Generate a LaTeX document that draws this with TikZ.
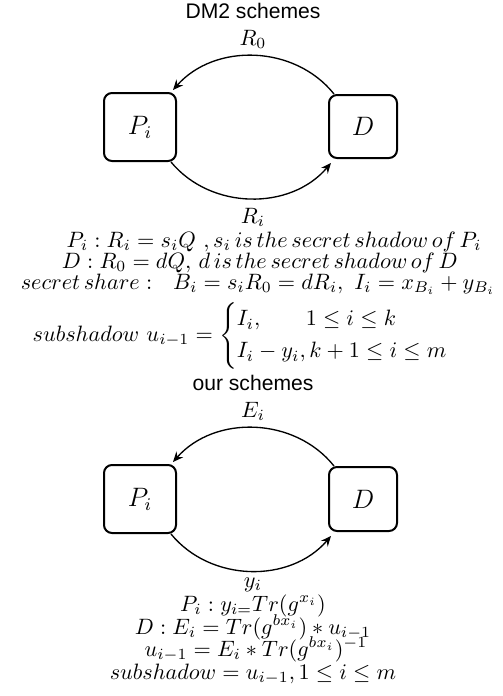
\documentclass[tikz,border=0pt]{standalone}
\usepackage{fontspec}
\setsansfont{Liberation Sans}
\usepackage{amsmath}
\usetikzlibrary{arrows.meta}
\def\U{0.45pt}
\tikzset{
  box/.style={draw, line width=0.9pt, rounded corners=3.6pt, inner sep=0pt, font=\large},
  lbl/.style={anchor=base, inner sep=0pt},
  ttl/.style={anchor=base, inner sep=0pt, font=\sffamily\fontsize{9.5}{11}\selectfont},
  conn/.style={line width=0.6pt, -{Stealth[length=4.6pt,width=4pt,inset=1.6pt]}},
}
\begin{document}
\begin{tikzpicture}[x=0.45pt,y=-0.45pt]
\useasboundingbox (0,0) rectangle (503,696);
% ---------- DM2 schemes ----------
\node[ttl] (t1) at (253,18) {DM2 schemes};
\node[box, minimum width={72*\U}, minimum height={68*\U}] (P1) at (140,127) {$P_i$};
\node[box, minimum width={68*\U}, minimum height={63*\U}] (D1) at (363,126.5) {$D$};
\draw[conn] ([xshift=6*\U]D1.north west) to[bend right=50] ([shift={(-4*\U,2*\U)}]P1.north east);
\draw[conn] ([xshift=-6*\U]P1.south east) to[bend right=50] ([shift={(3*\U,-4*\U)}]D1.south west);
\node[lbl] (r0) at (253,45) {$R_0$};
\node[lbl] (ri) at (253,223) {$R_i$};
\node[lbl] (a1) at (274,247) {$P_i:R_i=s_iQ\ ,s_i\,is\,the\,secret\,shadow\,of\,P_i$};
\node[lbl] (a2) at (260,268) {$D:R_0=dQ,\,d\,is\,the\,secret\,shadow\,of\,D$};
\node[lbl] (a3) at (258,289) {$secret\,share:\ \ B_i=s_iR_0=dR_i,\ I_i=x_{B_i}+y_{B_i}$};
\node[lbl] (a4) at (252,341) {$subshadow\ u_{i-1}=\begin{cases}\rlap{$I_i,$}\hphantom{I_i-y_i,}1\le i\le k\\ I_i-y_i,k+1\le i\le m\end{cases}$};
% ---------- our schemes ----------
\node[ttl] (t2) at (253,390) {our schemes};
\node[box, minimum width={72*\U}, minimum height={68*\U}] (P2) at (140,499) {$P_i$};
\node[box, minimum width={68*\U}, minimum height={64*\U}] (D2) at (363,499) {$D$};
\draw[conn] ([xshift=6*\U]D2.north west) to[bend right=50] ([shift={(-4*\U,2*\U)}]P2.north east);
\draw[conn] ([xshift=-6*\U]P2.south east) to[bend right=50] ([shift={(3*\U,-4*\U)}]D2.south west);
\node[lbl] (ei) at (253,417) {$E_i$};
\node[lbl] (yi) at (253,587) {$y_i$};
\node[lbl] (b1) at (253,611) {$P_i:y_{i=}Tr(g^{x_i})$};
\node[lbl] (b2) at (253,634) {$D:E_i=Tr(g^{bx_i})*u_{i-1}$};
\node[lbl] (b3) at (256,656) {$u_{i-1}=E_i*Tr(g^{bx_i})^{-1}$};
\node[lbl] (b4) at (253,679) {$subshadow=u_{i-1},1\le i\le m$};
\end{tikzpicture}
\end{document}
